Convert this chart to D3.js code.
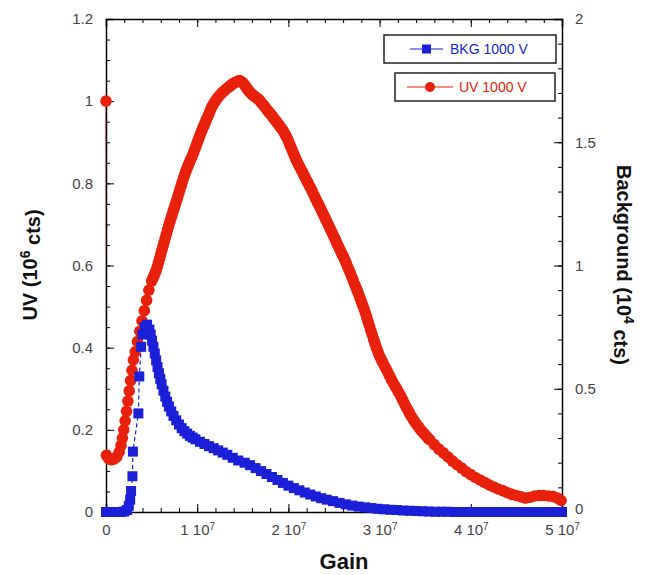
<!DOCTYPE html>
<html><head><meta charset="utf-8">
<script src="https://cdn.jsdelivr.net/npm/d3@7"></script>
<style>
body{margin:0;background:#fff}
svg{display:block}
text{font-family:"Liberation Sans",Arial,Helvetica,sans-serif}
</style>
</head><body>
<svg id="chart" width="652" height="575"></svg>
<script>
// ---------- data (gain in units of 1e7) ----------
const uvGain = [0,0.005,0.03,0.06,0.09,0.12,0.145,0.165,0.18,0.195,0.21,0.225,0.24,0.255,0.27,0.285,0.30,0.32,0.345,0.37,0.395,0.42,0.445,0.47,
0.5000,0.5125,0.5250,0.5375,0.5500,0.5625,0.5750,0.5875,0.6000,0.6125,0.6250,0.6375,0.6500,0.6625,0.6750,0.6875,0.7000,0.7125,0.7250,0.7375,0.7500,0.7625,0.7750,0.7875,0.8000,0.8125,0.8250,0.8375,0.8500,0.8625,0.8750,0.8875,0.9000,0.9125,0.9250,0.9375,0.9500,0.9625,0.9750,0.9875,1.0000,1.0125,1.0250,1.0375,1.0500,1.0625,1.0750,1.0875,1.1000,
1.115,1.130,1.145,1.160,1.178,1.195,1.212,1.230,1.250,1.270,1.290,1.310,1.330,1.350,1.370,1.390,1.410,1.430,1.448,1.465,1.480,1.495,1.510,1.525,1.540,1.555,1.570,1.585,1.600,1.615,1.630,1.645,1.660,1.675,1.690,1.705,1.720,1.735,1.750,1.765,1.780,1.795,1.810,1.825,1.840,1.855,1.870,1.885,1.900,1.915,1.930,1.945,1.960,1.975,1.990,
2.005,2.020,2.035,2.050,2.065,2.080,2.095,2.110,2.125,2.140,2.155,2.170,2.185,2.200,2.215,2.230,2.245,2.260,2.275,2.290,2.305,2.320,2.335,2.350,2.365,2.380,2.395,2.410,2.425,2.440,2.455,2.470,2.485,2.500,2.515,2.530,2.545,2.560,2.575,2.590,2.605,2.620,2.635,2.650,2.665,2.680,2.695,2.710,2.725,2.740,2.755,2.770,2.785,2.800,2.815,2.830,2.845,2.860,2.875,2.890,2.905,2.920,2.935,2.950,2.965,2.980,2.995,
3.012,3.030,3.050,3.070,3.090,3.110,3.130,3.150,3.170,3.190,3.210,3.230,3.250,3.270,3.290,3.310,3.330,3.350,3.370,3.390,3.410,3.430,3.450,3.470,3.490,3.510,3.530,3.550,
3.600,3.650,3.700,3.750,3.800,3.850,3.900,3.950,4.000,4.050,4.100,4.150,4.200,4.250,4.300,4.350,4.400,4.450,4.500,4.550,4.600,4.650,4.700,4.750,4.800,4.850,4.900,4.950,4.990];
const uvCounts = [1.0,0.138,0.130,0.127,0.129,0.135,0.146,0.162,0.18,0.20,0.222,0.245,0.27,0.295,0.32,0.345,0.37,0.39,0.415,0.44,0.465,0.49,0.515,0.54,
0.562,0.568,0.574,0.581,0.588,0.597,0.607,0.617,0.627,0.637,0.647,0.657,0.667,0.677,0.687,0.697,0.706,0.715,0.724,0.733,0.741,0.750,0.759,0.768,0.777,0.786,0.795,0.804,0.813,0.821,0.829,0.836,0.843,0.850,0.856,0.862,0.869,0.876,0.884,0.891,0.899,0.906,0.914,0.921,0.928,0.935,0.941,0.948,0.955,
0.962,0.970,0.978,0.986,0.993,0.999,1.005,1.010,1.015,1.020,1.024,1.028,1.032,1.035,1.039,1.042,1.045,1.047,1.049,1.050,1.048,1.046,1.042,1.038,1.033,1.028,1.024,1.020,1.017,1.014,1.011,1.009,1.007,1.004,1.000,0.996,0.992,0.988,0.984,0.979,0.975,0.971,0.967,0.963,0.958,0.954,0.950,0.945,0.941,0.936,0.932,0.927,0.921,0.915,0.908,
0.900,0.892,0.884,0.876,0.868,0.860,0.853,0.846,0.840,0.833,0.827,0.820,0.814,0.807,0.801,0.794,0.788,0.781,0.774,0.767,0.760,0.753,0.747,0.740,0.733,0.726,0.719,0.712,0.705,0.698,0.691,0.684,0.677,0.670,0.663,0.655,0.648,0.641,0.634,0.627,0.620,0.613,0.605,0.597,0.589,0.581,0.572,0.564,0.555,0.547,0.539,0.530,0.521,0.512,0.503,0.494,0.484,0.473,0.462,0.452,0.441,0.431,0.420,0.410,0.400,0.391,0.382,
0.374,0.366,0.357,0.349,0.340,0.331,0.322,0.314,0.306,0.299,0.291,0.283,0.274,0.265,0.256,0.248,0.240,0.232,0.225,0.218,0.212,0.206,0.200,0.195,0.190,0.185,0.180,0.176,
0.164,0.153,0.144,0.134,0.124,0.115,0.107,0.098,0.091,0.084,0.078,0.072,0.066,0.061,0.056,0.052,0.047,0.043,0.040,0.037,0.034,0.036,0.039,0.040,0.040,0.039,0.038,0.034,0.028];

const bkgGain = [0.00,0.04,0.08,0.12,0.16,0.20,0.23,0.25,0.265,0.275,0.29,0.295,0.355,0.365,0.385,0.40,0.425,0.45,0.475,0.490,0.505,0.520,0.535,0.550,0.565,0.580,0.595,0.610,0.630,0.650,0.670,0.690,0.715,0.740,0.770,0.800,0.830,0.860,0.890,0.920,0.950,0.980,1.030,1.080,1.130,1.180,1.230,1.280,1.330,1.390,1.450,1.520,1.580,1.640,1.700,1.760,1.820,1.880,1.940,2.000,2.060,2.120,2.180,2.240,2.300,2.360,2.420,2.490,2.560,2.630,2.700,2.770,2.840,2.910,2.980,3.050,3.120,3.190,3.260,3.330,3.400,3.470,3.540,3.610,3.680,3.750,3.820,3.890,3.960,4.030,4.100,4.170,4.240,4.310,4.380,4.450,4.520,4.590,4.660,4.730,4.800,4.870,4.940,5.000];
const bkgCounts = [0,0,0,0,0,0.002,0.008,0.025,0.05,0.085,0.145,0.245,0.40,0.55,0.67,0.72,0.75,0.76,0.74,0.72,0.695,0.67,0.643,0.615,0.588,0.563,0.540,0.518,0.492,0.468,0.447,0.428,0.408,0.390,0.372,0.355,0.340,0.328,0.318,0.309,0.302,0.295,0.285,0.276,0.267,0.259,0.250,0.241,0.232,0.220,0.209,0.200,0.190,0.178,0.166,0.154,0.142,0.130,0.118,0.107,0.097,0.088,0.079,0.071,0.063,0.056,0.050,0.044,0.037,0.031,0.026,0.022,0.019,0.016,0.013,0.011,0.009,0.008,0.006,0.005,0.004,0.003,0.002,0.001,0.001,0.001,0,0,0,0,0,0,0,0,0,0,0,0,0,0,0,0,0,0];

const xTickValues = [0,1,2,3,4,5];
const xTickMantissa = ["0","1 10","2 10","3 10","4 10","5 10"];
const xTickExponent = ["","7","7","7","7","7"];
const yLeftTickValues = [0,0.2,0.4,0.6,0.8,1,1.2];
const yLeftTickLabels = ["0","0.2","0.4","0.6","0.8","1","1.2"];
const yRightTickValues = [0,0.5,1,1.5,2];
const yRightTickLabels = ["0","0.5","1","1.5","2"];
const legendLabels = ["BKG 1000 V","UV 1000 V"];

const RED = "#e8210c", BLUE = "#1b1fd8";

// ---------- scales ----------
const svg = d3.select("#chart");
const L = 106, R = 562, T = 19, B = 512;
const x = d3.scaleLinear().domain([0,5]).range([L,R]);
const yL = d3.scaleLinear().domain([0,1.2]).range([B,T]);
const yR = d3.scaleLinear().domain([0,2]).range([B,T]);

const uvData = uvGain.map((g,i)=>({x:g,y:uvCounts[i]}));
const bkgData = bkgGain.map((g,i)=>({x:g,y:bkgCounts[i]}));

// connecting lines (beneath axes)
svg.append("path").datum(uvData)
  .attr("d", d3.line().x(d=>x(d.x)).y(d=>yL(d.y)))
  .attr("fill","none").attr("stroke",RED).attr("stroke-width",1);
svg.append("path").datum(bkgData)
  .attr("d", d3.line().x(d=>x(d.x)).y(d=>yR(d.y)))
  .attr("fill","none").attr("stroke",BLUE).attr("stroke-width",1.2).attr("stroke-dasharray","4,3");

const xMinor = d3.range(0,5.0001,0.2);
const yLMinor = d3.range(0,1.2001,0.05);
const yRMinor = d3.range(0,2.0001,0.1);

function styleAxis(g){
  g.select(".domain").attr("stroke","#000").attr("stroke-width",1.5);
  g.selectAll(".tick line").attr("stroke","#000").attr("stroke-width",1);
  g.selectAll(".tick text").attr("fill","#444").attr("font-size",15);
}
function minorAxis(axisFn, scale, vals, tr){
  const g = svg.append("g").attr("transform",tr)
    .call(axisFn(scale).tickValues(vals).tickSize(-4).tickFormat(""));
  g.select(".domain").remove();
  g.selectAll(".tick line").attr("stroke","#000").attr("stroke-width",1);
}

minorAxis(d3.axisBottom, x, xMinor, `translate(0,${B})`);
minorAxis(d3.axisTop, x, xMinor, `translate(0,${T})`);
minorAxis(d3.axisLeft, yL, yLMinor, `translate(${L},0)`);
minorAxis(d3.axisRight, yR, yRMinor, `translate(${R},0)`);

const gB = svg.append("g").attr("transform",`translate(0,${B})`)
  .call(d3.axisBottom(x).tickValues(xTickValues).tickSize(-8).tickPadding(12).tickFormat(""));
styleAxis(gB);
gB.selectAll(".tick text").each(function(d,i){
  const t = d3.select(this).attr("fill","#444").attr("font-size",15);
  t.append("tspan").text(xTickMantissa[i]);
  if (xTickExponent[i]) t.append("tspan").attr("dy","-0.45em").attr("font-size",10).text(xTickExponent[i]);
});
const gT = svg.append("g").attr("transform",`translate(0,${T})`)
  .call(d3.axisTop(x).tickValues(xTickValues).tickSize(-8).tickFormat(""));
styleAxis(gT);
const gL = svg.append("g").attr("transform",`translate(${L},0)`)
  .call(d3.axisLeft(yL).tickValues(yLeftTickValues).tickSize(-8).tickPadding(13).tickFormat((d,i)=>yLeftTickLabels[i]));
styleAxis(gL);
const gR = svg.append("g").attr("transform",`translate(${R},0)`)
  .call(d3.axisRight(yR).tickValues(yRightTickValues).tickSize(-8).tickPadding(13).tickFormat((d,i)=>yRightTickLabels[i]));
styleAxis(gR);
gR.selectAll(".tick text").filter(d=>d===0).attr("dy","0.1em");

// ---------- markers ----------
svg.append("g").selectAll("circle").data(uvData).join("circle")
  .attr("cx",d=>x(d.x)).attr("cy",d=>yL(d.y)).attr("r",5.8).attr("fill",RED);
svg.append("g").selectAll("rect").data(bkgData).join("rect")
  .attr("x",d=>x(d.x)-5).attr("y",d=>yR(d.y)-5).attr("width",10).attr("height",10).attr("fill",BLUE);

// ---------- legend ----------
const leg = [
  {label:legendLabels[0], color:BLUE, box:[384,35,172,28], line:[410,443], mark:"square", tx:450},
  {label:legendLabels[1], color:RED,  box:[395,73,160,28], line:[407,453], mark:"circle", tx:459}
];
leg.forEach(l=>{
  const g = svg.append("g");
  g.append("rect").attr("x",l.box[0]).attr("y",l.box[1]).attr("width",l.box[2]).attr("height",l.box[3])
    .attr("fill","#fff").attr("stroke","#222").attr("stroke-width",1.5);
  const cy = l.box[1]+l.box[3]/2;
  g.append("line").attr("x1",l.line[0]).attr("x2",l.line[1]).attr("y1",cy).attr("y2",cy)
    .attr("stroke",l.color).attr("stroke-width",1.2);
  const mx = (l.line[0]+l.line[1])/2;
  if (l.mark==="square") g.append("rect").attr("x",mx-4.5).attr("y",cy-4.5).attr("width",9).attr("height",9).attr("fill",l.color);
  else g.append("circle").attr("cx",mx).attr("cy",cy).attr("r",5).attr("fill",l.color);
  g.append("text").attr("x",l.tx).attr("y",cy).attr("dy","0.35em").attr("font-size",14)
    .attr("fill",l.color).text(l.label);
});

// ---------- axis titles ----------
const tL = svg.append("text").attr("transform","translate(37,265) rotate(-90)")
  .attr("text-anchor","middle").attr("font-size",20).attr("font-weight","bold").attr("fill","#111");
tL.append("tspan").text("UV (10");
tL.append("tspan").attr("dy","-0.5em").attr("font-size",14).text("6");
tL.append("tspan").attr("dy","0.5em").text(" cts)");

const tR = svg.append("text").attr("transform","translate(617,265) rotate(90)")
  .attr("text-anchor","middle").attr("font-size",20).attr("font-weight","bold").attr("fill","#111");
tR.append("tspan").text("Background (10");
tR.append("tspan").attr("dy","-0.5em").attr("font-size",14).text("4");
tR.append("tspan").attr("dy","0.5em").text(" cts)");

svg.append("text").attr("x",344).attr("y",569).attr("text-anchor","middle")
  .attr("font-size",22).attr("font-weight","bold").attr("fill","#111").text("Gain");
</script>
</body></html>
